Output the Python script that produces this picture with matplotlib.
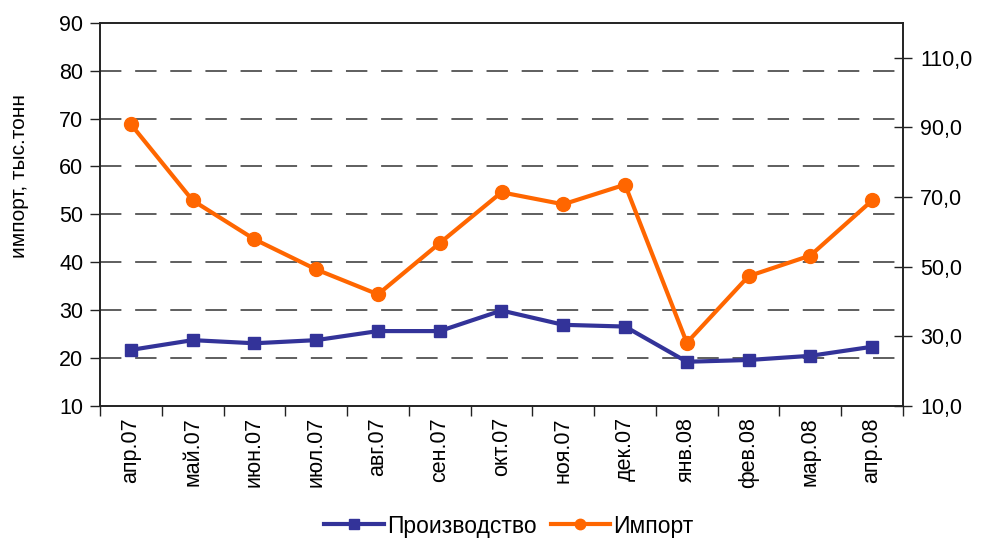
import matplotlib
matplotlib.use("Agg")
import matplotlib.pyplot as plt
from matplotlib.ticker import FixedLocator, FuncFormatter

plt.rcParams['font.family'] = ['Liberation Sans', 'DejaVu Sans']

months = ["апр.07", "май.07", "июн.07", "июл.07", "авг.07", "сен.07", "окт.07",
          "ноя.07", "дек.07", "янв.08", "фев.08", "мар.08", "апр.08"]
imports = [68.8, 52.9, 44.8, 38.5, 33.3, 44.0, 54.6, 52.1, 56.2, 23.2, 37.1, 41.4, 52.9]
production = [26.1, 28.9, 28.0, 28.9, 31.5, 31.5, 37.4, 33.3, 32.8, 22.7, 23.2, 24.4, 27.0]
left_ticks = [10, 20, 30, 40, 50, 60, 70, 80, 90]
right_ticks = [10, 30, 50, 70, 90, 110]

W, H = 983, 541
fig = plt.figure(figsize=(W / 100, H / 100), dpi=100)
ax = fig.add_axes([100 / W, (H - 406) / H, 803 / W, (406 - 22.7) / H])
ax2 = ax.twinx()

x = list(range(len(months)))
blue = "#333399"
orange = "#FF6600"

ax.set_ylim(10, 90)
ax.set_yticks(left_ticks)
ax.set_xlim(-0.5, len(months) - 0.5)
ax.set_xticks(x)
ax.set_xticklabels(months, rotation=90, fontsize=15.5)
ax.tick_params(axis='x', which='major', length=0, pad=8)
ax.xaxis.set_minor_locator(FixedLocator([i - 0.5 for i in range(len(months) + 1)]))
ax.tick_params(axis='x', which='minor', length=7, width=1, direction='out', color='#222222')
ax.tick_params(axis='y', length=7, width=1, direction='out', labelsize=15.5, color='#222222', pad=5)
for yv in left_ticks[1:-1]:
    ax.axhline(yv, color='#333333', lw=1.1, dashes=(14, 9), zorder=0)

ax2.set_ylim(10, 120)
ax2.set_yticks(right_ticks)
ax2.yaxis.set_major_formatter(FuncFormatter(lambda v, p: f"{v:.1f}".replace('.', ',')))
ax2.tick_params(axis='y', length=13, width=1, direction='inout', labelsize=15.5, color='#222222', pad=6)

ln_imp, = ax.plot(x, imports, color=orange, lw=3, marker='o', markersize=10,
                  label="Импорт", zorder=3)
ln_prod, = ax2.plot(x, production, color=blue, lw=3, marker='s', markersize=9,
                    label="Производство", zorder=3)

for a in (ax, ax2):
    for s in a.spines.values():
        s.set_color('#222222')
        s.set_linewidth(1.2)

ax.set_ylabel("импорт, тыс.тонн", fontsize=15)
ax.yaxis.set_label_coords(-0.089, 0.60)

leg = fig.legend([ln_prod, ln_imp], ["Производство", "Импорт"], loc='center',
                 bbox_to_anchor=(509 / W, 1 - 526 / H), ncol=2, frameon=False,
                 fontsize=16.5, handlelength=2.6, columnspacing=0.6,
                 handletextpad=0.15, markerscale=0.75)

fig.savefig("out.png", dpi=100)
